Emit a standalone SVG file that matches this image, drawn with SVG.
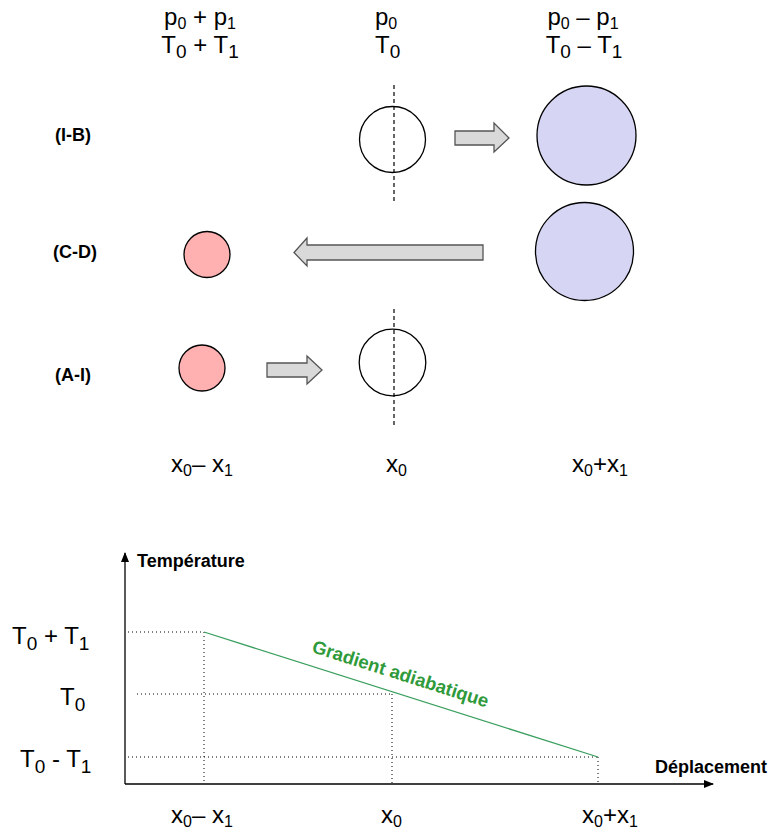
<svg xmlns="http://www.w3.org/2000/svg" width="774" height="836" viewBox="0 0 774 836">
<style>
  text { font-family: "Liberation Sans", Arial, sans-serif; fill: #000; }
  .big { font-size: 24px; }
  .sub { font-size: 16px; }
  .subT { font-size: 19px; }
  .row { font-size: 18px; font-weight: bold; }
  .axl { font-size: 18px; font-weight: bold; }
  .grad { font-size: 18.5px; font-weight: bold; fill: #2f9a3a; }
  .empty { fill: #fff; stroke: #000; stroke-width: 1.3; }
  .hot { fill: #ffb0b0; stroke: #000; stroke-width: 1.3; }
  .cold { fill: #d6d6f4; stroke: #000; stroke-width: 1.3; }
  .axis { fill: none; stroke: #000; stroke-width: 1.3; }
  .dash { fill: none; stroke: #000; stroke-width: 1.2; stroke-dasharray: 4 3; }
  .dot { fill: none; stroke: #000; stroke-width: 1; stroke-dasharray: 1 3; }
  .bigarrow { fill: #d9d9d9; stroke: #555; stroke-width: 1.3; stroke-linejoin: miter; }
</style>
<defs>
  <marker id="ah" markerWidth="10" markerHeight="10" refX="9" refY="5" orient="auto" markerUnits="userSpaceOnUse">
    <path d="M0,1 L10,5 L0,9 Z" fill="#000"/>
  </marker>
</defs>

<g id="header-left">
  <text class="big" x="200" y="25" text-anchor="middle">p<tspan class="sub" dy="4">0</tspan><tspan dy="-4"> + p</tspan><tspan class="sub" dy="4">1</tspan></text>
  <text class="big" x="200" y="53" text-anchor="middle">T<tspan class="subT" dy="5">0</tspan><tspan dy="-5"> + T</tspan><tspan class="subT" dy="5">1</tspan></text>
</g>
<g id="header-mid">
  <text class="big" x="375" y="25">p<tspan class="sub" dy="4">0</tspan></text>
  <text class="big" x="375" y="53">T<tspan class="subT" dy="5">0</tspan></text>
</g>
<g id="header-right">
  <text class="big" x="583" y="25" text-anchor="middle">p<tspan class="sub" dy="4">0</tspan><tspan dy="-4"> – p</tspan><tspan class="sub" dy="4">1</tspan></text>
  <text class="big" x="584" y="53" text-anchor="middle">T<tspan class="subT" dy="5">0</tspan><tspan dy="-5"> – T</tspan><tspan class="subT" dy="5">1</tspan></text>
</g>

<g id="row-labels">
  <text class="row" x="55" y="141">(I-B)</text>
  <text class="row" x="53" y="258">(C-D)</text>
  <text class="row" x="55" y="381">(A-I)</text>
</g>

<g id="parcel-IB-start">
  <circle class="empty" cx="392.5" cy="139.5" r="33"/>
  <line class="dash" x1="394" y1="85" x2="394" y2="203"/>
</g>
<g id="parcel-IB-end">
  <circle class="cold" cx="586.5" cy="135.5" r="49.5"/>
</g>
<g id="parcel-CD-start">
  <circle class="cold" cx="584.5" cy="251.5" r="49"/>
</g>
<g id="parcel-CD-end">
  <circle class="hot" cx="207" cy="254.5" r="23"/>
</g>
<g id="parcel-AI-start">
  <circle class="hot" cx="202" cy="368" r="23"/>
</g>
<g id="parcel-AI-end">
  <circle class="empty" cx="392.5" cy="362.5" r="33.3"/>
  <line class="dash" x1="394" y1="309" x2="394" y2="427"/>
</g>

<g id="connectors">
  <path class="bigarrow" d="M455,131 L494,131 L494,123 L509,138 L494,152 L494,145 L455,145 Z"/>
  <path class="bigarrow" d="M483,245 L307,245 L307,238 L294,252.5 L307,266 L307,260 L483,260 Z"/>
  <path class="bigarrow" d="M267,363 L307,363 L307,356 L322,370 L307,384 L307,377 L267,377 Z"/>
</g>

<g id="x-labels-top">
  <text class="big" x="171" y="472">x<tspan class="sub" dy="4">0</tspan><tspan dy="-4">– x</tspan><tspan class="sub" dy="4">1</tspan></text>
  <text class="big" x="386" y="472">x<tspan class="sub" dy="4">0</tspan></text>
  <text class="big" x="572" y="472">x<tspan class="sub" dy="4">0</tspan><tspan dy="-4">+x</tspan><tspan class="sub" dy="4">1</tspan></text>
</g>

<g id="graph">
  <line class="axis" x1="125" y1="784" x2="125" y2="553" marker-end="url(#ah)"/>
  <line class="axis" x1="125" y1="784" x2="713" y2="784" marker-end="url(#ah)"/>
  <text class="axl" x="137" y="567">Température</text>
  <text class="axl" x="655" y="773">Déplacement</text>

  <line class="dot" x1="128" y1="632" x2="204" y2="632"/>
  <line class="dot" x1="204" y1="632" x2="204" y2="784"/>
  <line class="dot" x1="137" y1="694" x2="392" y2="694"/>
  <line class="dot" x1="392" y1="694" x2="392" y2="784"/>
  <line class="dot" x1="128" y1="757" x2="598" y2="757"/>
  <line class="dot" x1="598" y1="757" x2="598" y2="784"/>

  <line x1="204" y1="632" x2="598" y2="757" stroke="#3a9f5e" stroke-width="1.3"/>
  <text class="grad" x="311" y="652" transform="rotate(17.6 311 652)">Gradient adiabatique</text>

  <text class="big" x="12" y="644">T<tspan class="subT" dy="6">0</tspan><tspan dy="-6"> + T</tspan><tspan class="subT" dy="6">1</tspan></text>
  <text class="big" x="60" y="705">T<tspan class="subT" dy="6">0</tspan></text>
  <text class="big" x="20" y="767">T<tspan class="subT" dy="6">0</tspan><tspan dy="-6"> - T</tspan><tspan class="subT" dy="6">1</tspan></text>

  <text class="big" x="171" y="823">x<tspan class="sub" dy="4">0</tspan><tspan dy="-4">– x</tspan><tspan class="sub" dy="4">1</tspan></text>
  <text class="big" x="381" y="823">x<tspan class="sub" dy="4">0</tspan></text>
  <text class="big" x="582" y="823">x<tspan class="sub" dy="4">0</tspan><tspan dy="-4">+x</tspan><tspan class="sub" dy="4">1</tspan></text>
</g>
</svg>
